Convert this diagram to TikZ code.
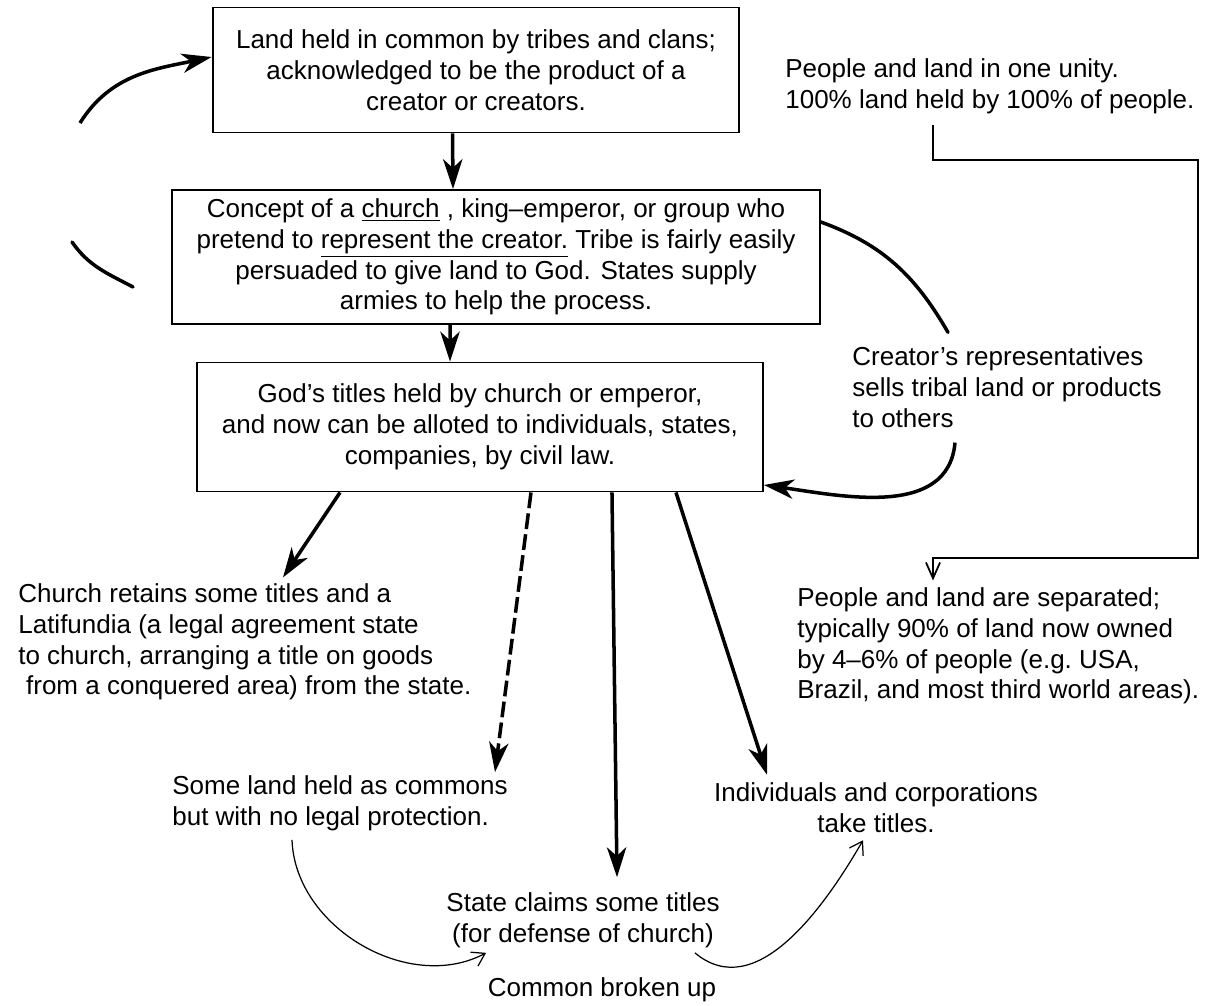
\documentclass[tikz,border=0pt]{standalone}
\usepackage{fontspec}
\setmainfont{Liberation Sans}
\usetikzlibrary{arrows.meta, positioning}
\tikzset{
    box/.style={draw, rectangle, line width=1.1pt, align=center, inner sep=0pt},
    note/.style={inner sep=0pt, align=left},
    arrow/.style={draw, -{Stealth[length=17pt, width=11pt, inset=5pt]}, line width=2pt},
    dasharrow/.style={arrow, dash pattern=on 9pt off 3pt},
    curve/.style={draw, line width=2pt, line cap=round},
    thinarrow/.style={draw, -{Straight Barb[length=7pt, width=9pt]}, line width=0.7pt},
    bracket/.style={draw, line width=1pt, -{Straight Barb[length=9pt, width=8pt]}}
}
\begin{document}
\begin{tikzpicture}[x=0.02cm, y=0.02cm, font=\fontsize{14.8}{17.5}\selectfont]
    \useasboundingbox (0,0) rectangle (1220,-1005);

    % main chain of boxes
    \node [box, minimum width=10.54cm, minimum height=2.5cm] (land) at (476,-70)
        {Land held in common by tribes and clans;\\acknowledged to be the product of a\\creator or creators.};
    \node [box, minimum width=12.96cm, minimum height=2.68cm] (concept) at (496,-257)
        {Concept of a \underline{church} , king--emperor, or group who\\pretend to \underline{represent the creator.} Tribe is fairly easily\\persuaded to give land to God. States supply\\armies to help the process.};
    \node [box, minimum width=11.32cm, minimum height=2.58cm] (titles) at (480,-427)
        {God's titles held by church or emperor,\\and now can be alloted to individuals, states,\\companies, by civil law.};

    % free texts
    \node [note, anchor=west] (unity) at (785,-86) {People and land in one unity.\\100\% land held by 100\% of people.};
    \node [note, anchor=west] (reps) at (852,-387) {Creator's representatives\\sells tribal land or products\\to others};
    \node [note, anchor=west] (apart) at (797,-646) {People and land are separated;\\typically 90\% of land now owned\\by 4--6\% of people (e.g.\ USA,\\Brazil, and most third world areas).};
    \node [note, anchor=west] (retain) at (18,-642) {Church retains some titles and a\\Latifundia (a legal agreement state\\to church, arranging a title on goods\\\hspace*{0.3em}from a conquered area) from the state.};
    \node [note, anchor=west] (commons) at (172,-803) {Some land held as commons\\but with no legal protection.};
    \node [note, align=center] (corp) at (876,-808) {Individuals and corporations\\take titles.};
    \node [note, align=center] (state) at (583,-920) {State claims some titles\\(for defense of church)};
    \node [note] (broken) at (602,-990) {Common broken up};

    % loose ends of the left loop
    \coordinate (loopa) at (80,-123);
    \coordinate (loopb) at (72,-242);
    \coordinate (loopc) at (133,-287);

    \draw [arrow] ([xshift=-0.47cm]land.south) -- ([xshift=-0.86cm]concept.north);
    \draw [arrow] ([xshift=-0.92cm]concept.south) -- ([xshift=-0.6cm]titles.north);
    \draw [arrow] (loopa) to[out=58, in=192] ([yshift=0.26cm]land.west);
    \draw [curve] (loopb) to[out=-55, in=152] (loopc);

    % right side
    \draw [curve] ([yshift=0.7cm]concept.east) to[out=-20, in=120] ([shift={(96,14)}]reps.north west);
    \draw [arrow] ([shift={(103,-15)}]reps.south west) to[out=-95, in=-8] ([yshift=-1.16cm]titles.east);
    \draw [bracket] ([shift={(148,-11)}]unity.south west) -- ++(0,-35) -- ++(265,0) -- ++(0,-398)
        -| ([shift={(136,7)}]apart.north west);

    % out of the titles box
    \draw [arrow] ([xshift=-2.8cm]titles.south) -- ([shift={(265,6)}]retain.north west);
    \draw [dasharrow] ([xshift=1.02cm]titles.south) -- ([shift={(323,3)}]commons.north west);
    \draw [arrow] ([xshift=2.64cm]titles.south) -- ([shift={(34,15)}]state.north);
    \draw [arrow] ([xshift=3.92cm]titles.south) -- ([shift={(-109,8)}]corp.north);

    % commons broken up
    \draw [thinarrow] ([shift={(120,-9)}]commons.south west) to[out=-88, in=208] ([shift={(40,-5)}]state.south west);
    \draw [thinarrow] ([shift={(-25,-5)}]state.south east) to[out=-40, in=240] ([shift={(-13,-7)}]corp.south);
\end{tikzpicture}
\end{document}
